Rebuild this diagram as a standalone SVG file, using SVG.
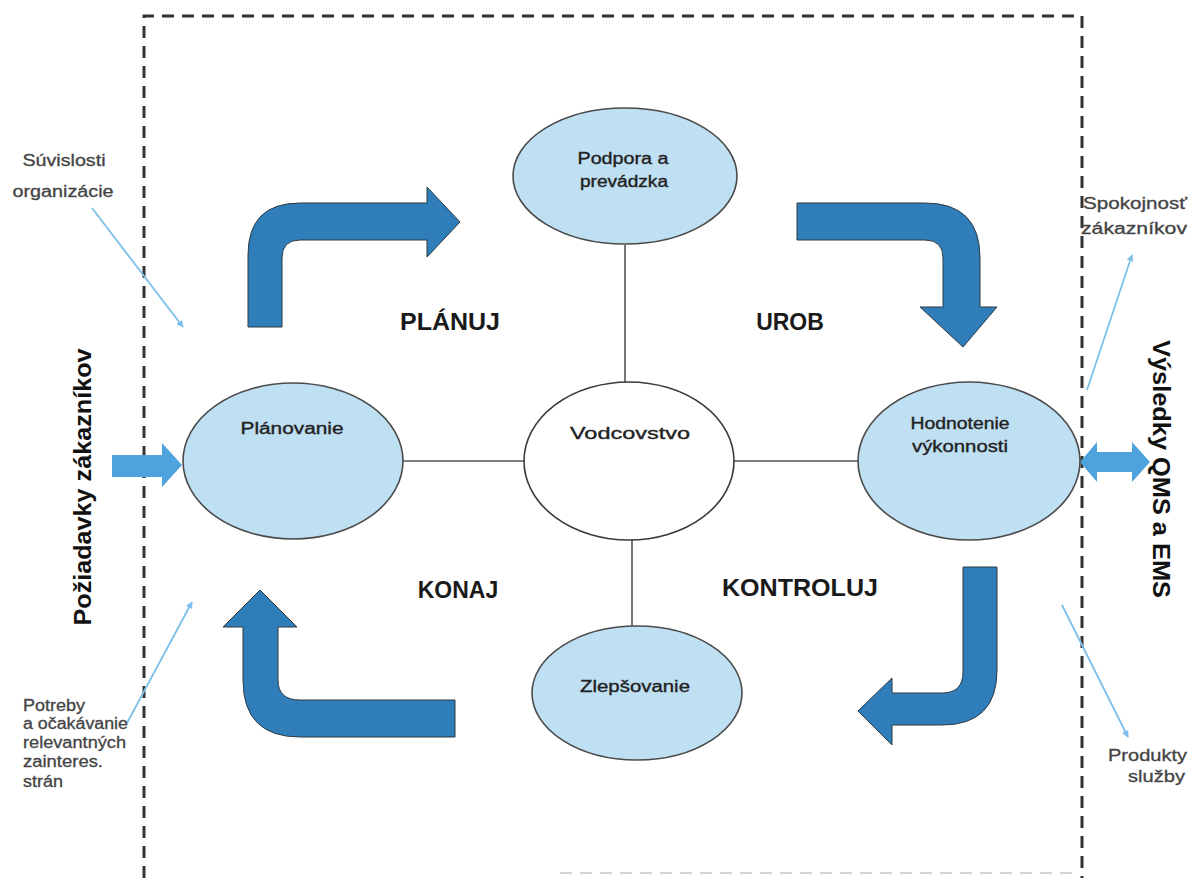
<svg xmlns="http://www.w3.org/2000/svg" width="1192" height="878" viewBox="0 0 1192 878">
<style>
  .node { fill: #bfdff2; stroke: #4a4a4a; stroke-width: 1.6; }
  .lead { fill: #ffffff; stroke: #3a3a3a; stroke-width: 1.6; }
  .nlabel { font-family: "Liberation Sans", Arial, sans-serif; font-size: 16px; fill: #222; stroke: #222; stroke-width: 0.35; text-anchor: middle; }
  .phase { font-family: "Liberation Sans", Arial, sans-serif; font-size: 23px; font-weight: bold; fill: #1a1a1a; text-anchor: middle; }
  .side { font-family: "Liberation Sans", Arial, sans-serif; font-size: 16px; fill: #444; stroke: #444; stroke-width: 0.3; }
  .vert { font-family: "Liberation Sans", Arial, sans-serif; font-size: 23px; font-weight: bold; fill: #111; text-anchor: middle; }
  .big { fill: #2f7eb9; stroke: #2d3a44; stroke-width: 1; }
  .small { fill: #4ea3dc; }
  .thin { stroke: #7cc0ea; stroke-width: 1.8; fill: none; marker-end: url(#tip); }
  .spoke { stroke: #555; stroke-width: 1.6; }
</style>
<defs>
  <marker id="tip" viewBox="0 0 10 10" refX="9" refY="5" markerWidth="7" markerHeight="7" markerUnits="userSpaceOnUse" orient="auto">
    <path d="M0,0 L10,5 L0,10 Z" fill="#7cc0ea"/>
  </marker>
</defs>
<rect width="1192" height="878" fill="#ffffff"/>

<g id="frame" fill="none" stroke="#333" stroke-width="3" stroke-dasharray="12 8">
  <path d="M144,878 L144,16 L1082,16 L1082,878"/>
  <line x1="560" y1="873" x2="1080" y2="873" stroke="#d4d4d4" stroke-width="2"/>
</g>

<g id="connectors">
  <line class="spoke" x1="625" y1="245" x2="625" y2="383"/>
  <line class="spoke" x1="403" y1="461" x2="524" y2="461"/>
  <line class="spoke" x1="734" y1="461" x2="858" y2="461"/>
  <line class="spoke" x1="632" y1="540" x2="632" y2="626"/>
  <path class="big" d="M248,327 L248,255 Q248,203 300,203 L427,203 L427,187 L460,222 L427,257 L427,240 L300,240 Q282,240 282,258 L282,327 Z"/>
  <path class="big" d="M797,203 L925,203 Q980,203 980,258 L980,307 L997,307 L963,347 L920,307 L943,307 L943,258 Q943,240 925,240 L797,240 Z"/>
  <path class="big" d="M963,567 L997,567 L997,670 Q997,725 942,725 L892,725 L892,745 L858,711 L892,678 L892,693 L942,693 Q963,693 963,672 Z"/>
  <path class="big" d="M455,700 L300,700 Q278,700 278,680 L278,627 L297,627 L260,590 L223,627 L243,627 L243,680 Q243,737 300,737 L455,737 Z"/>
  <path class="small" d="M112,455 L162,455 L162,443 L182,465 L162,487 L162,477 L112,477 Z"/>
  <path class="small" d="M1080,462 L1097,442 L1097,452 L1132,452 L1132,442 L1150,462 L1132,482 L1132,472 L1097,472 L1097,482 Z"/>
  <line class="thin" x1="92" y1="208" x2="183" y2="327"/>
  <line class="thin" x1="127" y1="723" x2="192" y2="602"/>
  <line class="thin" x1="1087" y1="390" x2="1132" y2="255"/>
  <line class="thin" x1="1062" y1="605" x2="1128" y2="737"/>
</g>

<g id="podpora">
  <ellipse class="node" cx="625" cy="176" rx="112" ry="68"/>
  <text class="nlabel" x="623" y="164" textLength="91" lengthAdjust="spacingAndGlyphs">Podpora a</text>
  <text class="nlabel" x="624" y="187" textLength="88" lengthAdjust="spacingAndGlyphs">prevádzka</text>
</g>
<g id="planovanie">
  <ellipse class="node" cx="293" cy="461" rx="110" ry="78"/>
  <text class="nlabel" x="292" y="434" textLength="103" lengthAdjust="spacingAndGlyphs">Plánovanie</text>
</g>
<g id="vodcovstvo">
  <ellipse class="lead" cx="629" cy="461" rx="105" ry="79"/>
  <text class="nlabel" x="630" y="439" font-size="19" textLength="120" lengthAdjust="spacingAndGlyphs">Vodcovstvo</text>
</g>
<g id="hodnotenie">
  <ellipse class="node" cx="969" cy="461" rx="111" ry="79"/>
  <text class="nlabel" x="960" y="429" textLength="99" lengthAdjust="spacingAndGlyphs">Hodnotenie</text>
  <text class="nlabel" x="960" y="452" textLength="96" lengthAdjust="spacingAndGlyphs">výkonnosti</text>
</g>
<g id="zlepsovanie">
  <ellipse class="node" cx="637" cy="693" rx="105" ry="67"/>
  <text class="nlabel" x="635" y="692" textLength="110" lengthAdjust="spacingAndGlyphs">Zlepšovanie</text>
</g>

<g id="phases">
  <text class="phase" x="450" y="330" textLength="100" lengthAdjust="spacingAndGlyphs">PLÁNUJ</text>
  <text class="phase" x="790" y="330">UROB</text>
  <text class="phase" x="458" y="598">KONAJ</text>
  <text class="phase" x="800" y="596" textLength="156" lengthAdjust="spacingAndGlyphs">KONTROLUJ</text>
</g>

<g id="labels">
  <text class="side" x="64" y="166" text-anchor="middle" textLength="83" lengthAdjust="spacingAndGlyphs">Súvislosti</text>
  <text class="side" x="63" y="197" text-anchor="middle" textLength="101" lengthAdjust="spacingAndGlyphs">organizácie</text>
  <text class="side" x="23" y="711" textLength="62" lengthAdjust="spacingAndGlyphs">Potreby</text>
  <text class="side" x="23" y="729" textLength="105" lengthAdjust="spacingAndGlyphs">a očakávanie</text>
  <text class="side" x="23" y="748" textLength="103" lengthAdjust="spacingAndGlyphs">relevantných</text>
  <text class="side" x="23" y="767" textLength="80" lengthAdjust="spacingAndGlyphs">zainteres.</text>
  <text class="side" x="23" y="787" textLength="40" lengthAdjust="spacingAndGlyphs">strán</text>
  <text class="side" x="1083" y="209" textLength="104" lengthAdjust="spacingAndGlyphs">Spokojnosť</text>
  <text class="side" x="1081" y="234" textLength="106" lengthAdjust="spacingAndGlyphs">zákazníkov</text>
  <text class="side" x="1187" y="761" text-anchor="end" textLength="79" lengthAdjust="spacingAndGlyphs">Produkty</text>
  <text class="side" x="1185" y="782" text-anchor="end" textLength="57" lengthAdjust="spacingAndGlyphs">služby</text>
  <text class="vert" transform="translate(91,487) rotate(-90)" textLength="277" lengthAdjust="spacingAndGlyphs">Požiadavky zákazníkov</text>
  <text class="vert" transform="translate(1153,469) rotate(90)" textLength="258" lengthAdjust="spacingAndGlyphs">Výsledky QMS a EMS</text>
</g>
</svg>
